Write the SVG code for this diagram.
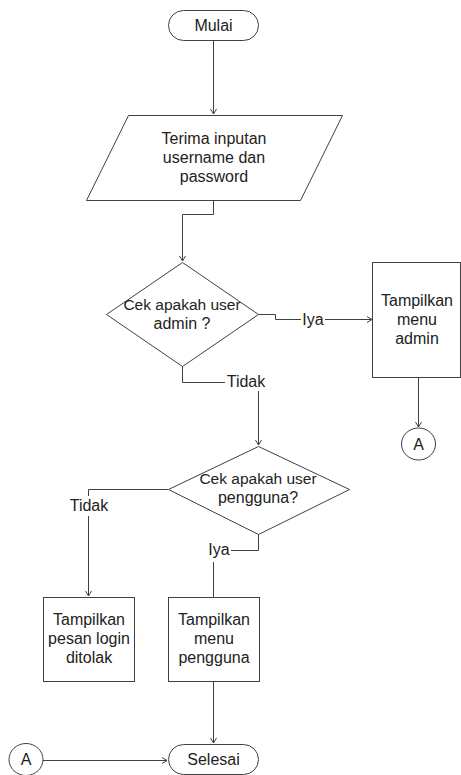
<svg xmlns="http://www.w3.org/2000/svg" width="461" height="775" viewBox="0 0 461 775">
  <style>
    .shape { fill: #ffffff; stroke: #404040; stroke-width: 1; }
    .line { fill: none; stroke: #404040; stroke-width: 1; }
    .lbl { font-family: "Liberation Sans", Arial, sans-serif; font-size: 16px; fill: #222222; text-anchor: middle; }
    .wide { font-size: 15.5px; }
  </style>
  <defs>
    <marker id="arrow" markerWidth="8" markerHeight="8" refX="6" refY="4" orient="auto" markerUnits="userSpaceOnUse">
      <path d="M1,1 L6,4 L1,7" fill="none" stroke="#404040" stroke-width="1"/>
    </marker>
  </defs>
  <rect width="461" height="775" fill="#ffffff"/>

  <g id="connectors">
    <path class="line" d="M213.5,41 V114" marker-end="url(#arrow)"/>
    <path class="line" d="M213.5,200 V214.5 H182.5 V261" marker-end="url(#arrow)"/>
    <path class="line" d="M258,314.5 H275.5 V319.5 H372" marker-end="url(#arrow)"/>
    <path class="line" d="M182.5,366 V382.5 H258.5 V445" marker-end="url(#arrow)"/>
    <path class="line" d="M418.5,377 V427" marker-end="url(#arrow)"/>
    <path class="line" d="M168,489.5 H88.5 V596" marker-end="url(#arrow)"/>
    <path class="line" d="M258.5,534 V550.5 H213.5 V597"/>
    <path class="line" d="M213.5,681 V743" marker-end="url(#arrow)"/>
    <path class="line" d="M43,760.5 H167" marker-end="url(#arrow)"/>
    <!-- branch labels with white backing -->
    <rect x="301" y="310" width="24" height="18" fill="#ffffff"/>
    <text class="lbl" x="313" y="325">Iya</text>
    <rect x="225" y="372" width="43" height="19" fill="#ffffff"/>
    <text class="lbl" x="246" y="387">Tidak</text>
    <rect x="67" y="496" width="44" height="20" fill="#ffffff"/>
    <text class="lbl" x="89" y="511">Tidak</text>
    <rect x="207" y="540" width="24" height="22" fill="#ffffff"/>
    <text class="lbl" x="219" y="555">Iya</text>
  </g>

  <g id="mulai">
    <rect class="shape" x="168.5" y="10.5" width="90" height="30" rx="15" ry="15"/>
    <text class="lbl" x="213.5" y="31">Mulai</text>
  </g>

  <g id="input">
    <polygon class="shape" points="128.5,115.5 342.5,115.5 300.5,200.5 86.5,200.5"/>
    <text class="lbl" x="214" y="144">Terima inputan</text>
    <text class="lbl" x="214" y="163">username dan</text>
    <text class="lbl" x="214" y="182">password</text>
  </g>

  <g id="cek-admin">
    <polygon class="shape" points="182.5,262.5 258.5,314.5 182.5,366.5 106.5,314.5"/>
    <text class="lbl wide" x="182" y="310">Cek apakah user</text>
    <text class="lbl" x="182" y="329">admin ?</text>
  </g>

  <g id="menu-admin">
    <rect class="shape" x="372.5" y="262.5" width="88" height="115"/>
    <text class="lbl" x="417" y="306">Tampilkan</text>
    <text class="lbl" x="417" y="325">menu</text>
    <text class="lbl" x="417" y="344">admin</text>
  </g>

  <g id="konektor-a-atas">
    <ellipse class="shape" cx="418.5" cy="444" rx="17" ry="16"/>
    <text class="lbl" x="418.5" y="450">A</text>
  </g>

  <g id="cek-pengguna">
    <polygon class="shape" points="258.5,446.5 349.5,489.5 258.5,534.5 168.5,489.5"/>
    <text class="lbl wide" x="258" y="484">Cek apakah user</text>
    <text class="lbl" x="258" y="503">pengguna?</text>
  </g>

  <g id="login-ditolak">
    <rect class="shape" x="43.5" y="597.5" width="91" height="84"/>
    <text class="lbl" x="89" y="625">Tampilkan</text>
    <text class="lbl" x="89" y="644">pesan login</text>
    <text class="lbl" x="89" y="663">ditolak</text>
  </g>

  <g id="menu-pengguna">
    <rect class="shape" x="168.5" y="597.5" width="91" height="84"/>
    <text class="lbl" x="214" y="625">Tampilkan</text>
    <text class="lbl" x="214" y="644">menu</text>
    <text class="lbl" x="214" y="663">pengguna</text>
  </g>

  <g id="konektor-a-bawah">
    <ellipse class="shape" cx="26" cy="759.5" rx="17" ry="16"/>
    <text class="lbl" x="26" y="765">A</text>
  </g>

  <g id="selesai">
    <rect class="shape" x="168.5" y="744.5" width="90" height="30" rx="15" ry="15"/>
    <text class="lbl" x="213.5" y="765">Selesai</text>
  </g>
</svg>
